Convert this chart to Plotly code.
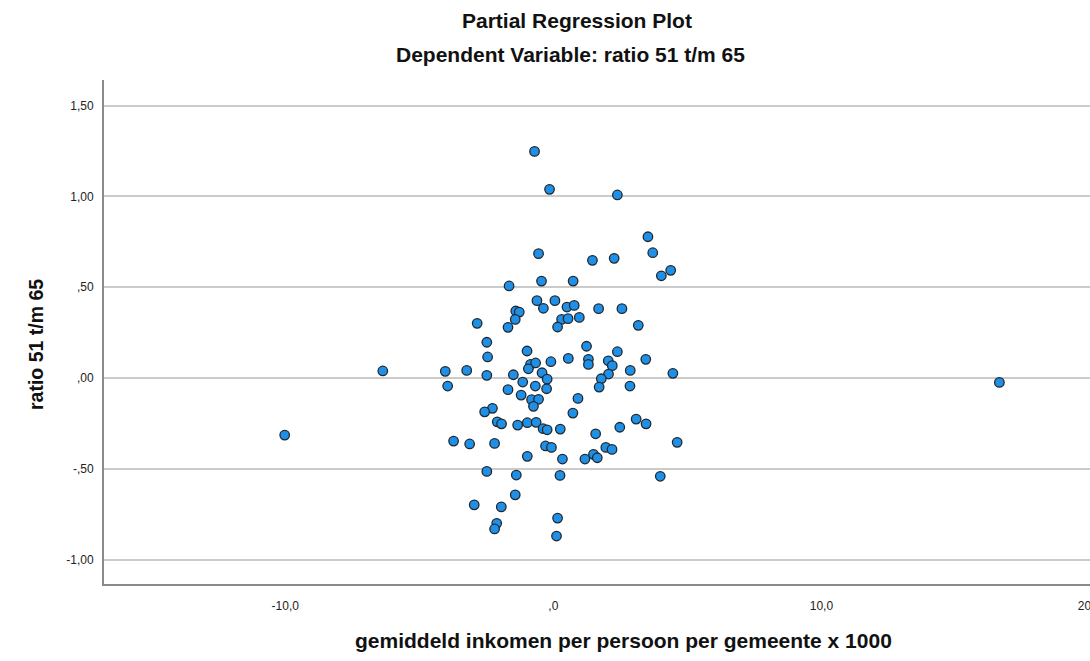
import plotly.graph_objects as go

# Partial regression residuals: income (x 1000) vs. ratio 51 t/m 65
inkomen = [
    -0.70, -0.14, 2.39, 3.53, -0.55, 3.71, 1.46, 2.27, 4.38, 4.03,
    -0.44, 0.74, -1.65, -0.61, 0.06, -0.37, 0.51, 0.78, 1.69, 2.56,
    -1.40, -1.27, -1.42, 0.31, 0.55, 0.97, -2.84, -1.69, 0.16, 3.17,
    -2.48, -0.98, 1.24, 2.39, -2.45, -4.03, -3.23, -2.48, -0.85, -0.66,
    -0.93, -0.09, 0.56, 1.31, 1.31, 2.05, 2.20, 3.45, 2.87, 2.06,
    1.79, 4.46, -3.94, -1.49, -0.42, -1.14, -0.23, -0.67, -0.25, -1.69,
    1.71, 2.86, -1.20, 0.92, -0.81, -0.55, -0.74, -2.27, -2.56, 0.73,
    -2.09, -1.93, -1.33, -0.97, -0.64, -0.38, -0.23, 0.26, 3.09, 3.46,
    2.48, 1.58, -3.72, -3.12, -2.19, -0.29, -0.07, 1.96, 2.19, 4.62,
    -0.97, 0.34, 1.18, 1.50, 1.64, -2.48, -1.38, 0.25, 3.99, -1.42,
    -2.95, -1.94, 0.16, -2.11, -2.19, 0.12, -6.36, -10.02, 16.64,
]
ratio = [
    1.248, 1.039, 1.008, 0.778, 0.685, 0.690, 0.648, 0.659, 0.593, 0.563,
    0.534, 0.534, 0.507, 0.426, 0.426, 0.384, 0.391, 0.400, 0.382, 0.382,
    0.369, 0.363, 0.323, 0.323, 0.327, 0.334, 0.301, 0.279, 0.281, 0.290,
    0.197, 0.149, 0.175, 0.145, 0.116, 0.037, 0.042, 0.015, 0.075, 0.083,
    0.051, 0.090, 0.108, 0.103, 0.075, 0.095, 0.068, 0.103, 0.042, 0.022,
    -0.004, 0.026, -0.044, 0.018, 0.029, -0.022, -0.006, -0.044, -0.059, -0.064,
    -0.050, -0.044, -0.094, -0.112, -0.119, -0.117, -0.156, -0.167, -0.186, -0.193,
    -0.241, -0.252, -0.259, -0.246, -0.244, -0.279, -0.285, -0.281, -0.226, -0.252,
    -0.271, -0.307, -0.347, -0.363, -0.360, -0.374, -0.382, -0.382, -0.393, -0.354,
    -0.431, -0.446, -0.446, -0.420, -0.439, -0.514, -0.534, -0.536, -0.541, -0.643,
    -0.698, -0.709, -0.771, -0.800, -0.831, -0.870, 0.039, -0.314, -0.024,
]

x_tickvals = [-10, 0, 10, 20]
x_ticktext = ["-10,0", ",0", "10,0", "20,0"]
y_tickvals = [-1.0, -0.5, 0.0, 0.5, 1.0, 1.5]
y_ticktext = ["-1,00", "-,50", ",00", ",50", "1,00", "1,50"]

FONT = "Liberation Sans, Arial, sans-serif"

fig = go.Figure(
    go.Scatter(
        x=inkomen,
        y=ratio,
        mode="markers",
        marker=dict(size=9.5, color="rgb(30,144,232)",
                    line=dict(color="#23282d", width=1.3)),
        hoverinfo="x+y",
    )
)

W, H = 1090, 661
ML, MR, MT, MB = 104, 0, 80, 77
PW, PH = W - ML - MR, H - MT - MB


def px_x(px):
    """Horizontal pixel position -> paper fraction."""
    return (px - ML) / PW


def px_y(py):
    """Vertical pixel position (from top) -> paper fraction."""
    return (H - MB - py) / PH


fig.update_layout(
    width=W, height=H,
    margin=dict(l=ML, r=MR, t=MT, b=MB, pad=0, autoexpand=False),
    paper_bgcolor="white",
    plot_bgcolor="white",
    showlegend=False,
    font=dict(family=FONT, color="#1a1a1a"),
)

fig.update_xaxes(
    range=[-16.76, 20.02],
    tickvals=x_tickvals, ticktext=x_ticktext,
    tickfont=dict(size=12, color="#222"),
    ticklabeloverflow="allow", automargin=False,
    showgrid=False, zeroline=False,
    showline=True, linecolor="#8a8a8a", linewidth=2,
    ticks="", ticklabelstandoff=10,
)
fig.update_yaxes(
    range=[-1.134, 1.641],
    tickvals=y_tickvals, ticktext=y_ticktext,
    tickfont=dict(size=12, color="#222"),
    automargin=False,
    showgrid=True, gridcolor="#cbcbcb", gridwidth=1.6,
    zeroline=False,
    showline=True, linecolor="#8a8a8a", linewidth=2,
    ticks="", ticklabelstandoff=6,
)

# Titles and axis titles placed as annotations
texts = [
    ("<b>Partial Regression Plot</b>", 577, 21, 21, 0),
    ("<b>Dependent Variable: ratio 51 t/m 65</b>", 570, 55, 21, 0),
    ("<b>gemiddeld inkomen per persoon per gemeente x 1000</b>", 623, 640, 21, 0),
    ("<b>ratio 51 t/m 65</b>", 36, 345, 19.5, -90),
]
for txt, cx, cy, size, ang in texts:
    fig.add_annotation(
        text=txt, xref="paper", yref="paper",
        x=px_x(cx), y=px_y(cy),
        showarrow=False, xanchor="center", yanchor="middle",
        textangle=ang,
        font=dict(family=FONT, size=size, color="#111"),
    )

fig.write_html("out.html")
